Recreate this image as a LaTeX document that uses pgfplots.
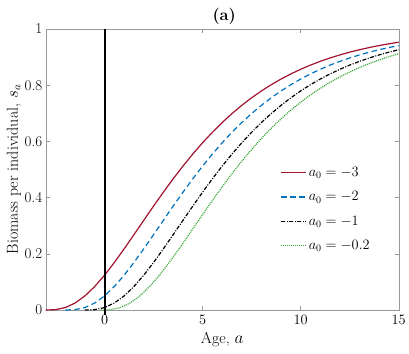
\documentclass[border=0pt]{standalone}
\usepackage{pgfplots}
\pgfplotsset{compat=1.18}
\definecolor{cred}{rgb}{0.635,0.078,0.184}
\definecolor{cblue}{rgb}{0,0.447,0.741}
\definecolor{cgreen}{rgb}{0.2,0.65,0.2}
\definecolor{axgray}{rgb}{0.6,0.6,0.6}
\begin{document}
\begin{tikzpicture}
\begin{axis}[
  scale only axis,
  width=353bp, height=281bp,
  xmin=-3, xmax=15, ymin=0, ymax=1,
  xtick={0,5,10,15}, ytick={0,0.2,0.4,0.6,0.8,1},
  yticklabels={0,0.2,0.4,0.6,0.8,1},
  tick align=inside,
  major tick length=4bp,
  axis line style={axgray},
  every tick/.style={axgray},
  tick label style={font=\fontsize{15}{18}\selectfont, black},
  xticklabel style={yshift=-2bp},
  label style={font=\fontsize{16}{19}\selectfont},
  xlabel={Age, $a$},
  ylabel={Biomass per individual, $s_a$},
  xlabel style={yshift=-1bp},
  ylabel style={yshift=-3bp},
  title={\textbf{(a)}},
  title style={font=\fontsize{16.5}{19}\selectfont, yshift=-5bp, xshift=2bp},
  legend style={draw=none, fill=none, at={(0.665,0.515)}, anchor=north west,
    font=\fontsize{14.5}{17}\selectfont, row sep=9.5bp, inner sep=0pt},
  legend cell align=left,
  legend image code/.code={\draw[#1] (0bp,0bp) -- (25bp,0bp);},
  clip=false,
]
\addlegendimage{draw=cred, line width=1.2bp}
\addlegendentry{$a_0=-3$}
\addlegendimage{draw=cblue, line width=1.2bp, dash pattern=on 5.5bp off 3.5bp}
\addlegendentry{$a_0=-2$}
\addlegendimage{draw=black, line width=1.2bp, dash pattern=on 4bp off 1.5bp on 1bp off 1.5bp}
\addlegendentry{$a_0=-1$}
\addlegendimage{draw=cgreen, line width=1.2bp, dash pattern=on 1bp off 1bp}
\addlegendentry{$a_0=-0.2$}
\addplot[draw=cred, line width=1.2bp, forget plot] coordinates {
(-3,0) (-2.5,0.001282) (-2,0.008675) (-1.5,0.02484) (-1,0.05013) (-0.5,0.08363)
(0,0.12382) (0.5,0.16903) (1,0.21760) (1.5,0.26805) (2,0.31912) (2.5,0.36977)
(3,0.41922) (3.5,0.46684) (4,0.51221) (4.5,0.55507) (5,0.59521) (5.5,0.63258)
(6,0.66720) (6.5,0.69910) (7,0.72837) (7.5,0.75514) (8,0.77955) (8.5,0.80172)
(9,0.82188) (9.5,0.84011) (10,0.85659) (10.5,0.87148) (11,0.88485) (11.5,0.89692)
(12,0.90773) (12.5,0.91748) (13,0.92623) (13.5,0.93408) (14,0.94109) (14.5,0.94739)
(15,0.95299)};
\addplot[draw=cblue, line width=1.2bp, dash pattern=on 5.5bp off 3.5bp, forget plot] coordinates {
(-2,0) (-1.5,0.001282) (-1,0.008675) (-0.5,0.02484) (0,0.05013) (0.5,0.08363)
(1,0.12382) (1.5,0.16903) (2,0.21760) (2.5,0.26805) (3,0.31912) (3.5,0.36977)
(4,0.41922) (4.5,0.46684) (5,0.51221) (5.5,0.55507) (6,0.59521) (6.5,0.63258)
(7,0.66720) (7.5,0.69910) (8,0.72837) (8.5,0.75514) (9,0.77955) (9.5,0.80172)
(10,0.82188) (10.5,0.84011) (11,0.85659) (11.5,0.87148) (12,0.88485) (12.5,0.89692)
(13,0.90773) (13.5,0.91748) (14,0.92623) (14.5,0.93408) (15,0.94109)};
\addplot[draw=black, line width=1.2bp, dash pattern=on 4bp off 1.5bp on 1bp off 1.5bp, forget plot] coordinates {
(-1,0) (-0.5,0.001282) (0,0.008675) (0.5,0.02484) (1,0.05013) (1.5,0.08363)
(2,0.12382) (2.5,0.16903) (3,0.21760) (3.5,0.26805) (4,0.31912) (4.5,0.36977)
(5,0.41922) (5.5,0.46684) (6,0.51221) (6.5,0.55507) (7,0.59521) (7.5,0.63258)
(8,0.66720) (8.5,0.69910) (9,0.72837) (9.5,0.75514) (10,0.77955) (10.5,0.80172)
(11,0.82188) (11.5,0.84011) (12,0.85659) (12.5,0.87148) (13,0.88485) (13.5,0.89692)
(14,0.90773) (14.5,0.91748) (15,0.92623)};
\addplot[draw=cgreen, line width=1.2bp, dash pattern=on 1bp off 1bp, forget plot] coordinates {
(-0.2,0) (0.3,0.001282) (0.8,0.008675) (1.3,0.02484) (1.8,0.05013) (2.3,0.08363)
(2.8,0.12382) (3.3,0.16903) (3.8,0.21760) (4.3,0.26805) (4.8,0.31912) (5.3,0.36977)
(5.8,0.41922) (6.3,0.46684) (6.8,0.51221) (7.3,0.55507) (7.8,0.59521) (8.3,0.63258)
(8.8,0.66720) (9.3,0.69910) (9.8,0.72837) (10.3,0.75514) (10.8,0.77955) (11.3,0.80172)
(11.8,0.82188) (12.3,0.84011) (12.8,0.85659) (13.3,0.87148) (13.8,0.88485) (14.3,0.89692)
(14.8,0.90773) (15,0.91179)};
\addplot[black, line width=2bp, forget plot] coordinates {(0,-0.017) (0,1)};
\end{axis}
\pgfresetboundingbox
\path[use as bounding box] ([xshift=-45.7bp,yshift=-44bp]current axis.south west) rectangle ([xshift=10.3bp,yshift=29bp]current axis.north east);
\end{tikzpicture}
\end{document}
